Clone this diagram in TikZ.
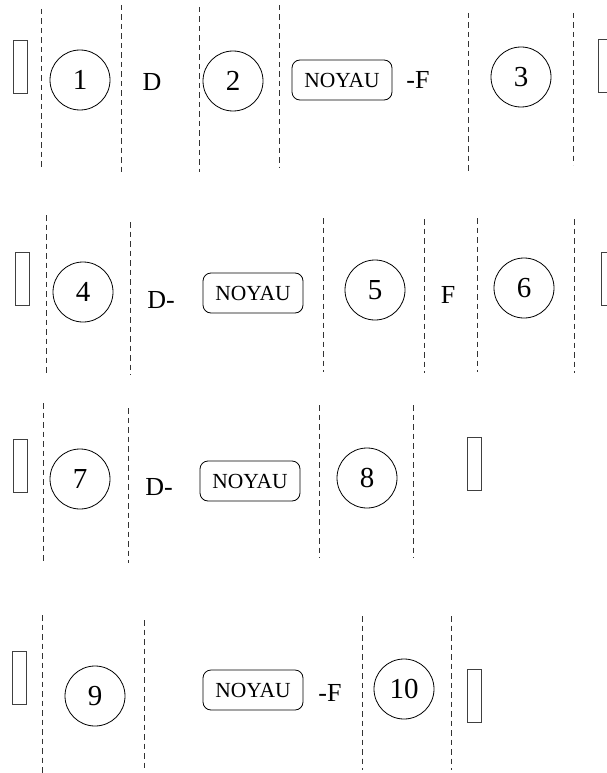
\documentclass[tikz,border=0pt]{standalone}
\usepackage{fontspec}
\setmainfont{Liberation Serif}
\usepackage{tikz}
\tikzset{
  disc/.style={draw=black, line width=0.8pt, circle, minimum size=60pt, inner sep=0pt,
    font=\fontsize{29}{31}\selectfont},
  kernel/.style={draw=black, line width=0.8pt, rounded corners=8pt, minimum width=100pt,
    minimum height=40pt, inner sep=0pt, font=\fontsize{21.5}{23}\selectfont},
  wall/.style={draw=black!75, line width=0.8pt, minimum width=14pt, minimum height=53pt, inner sep=0pt},
  tag/.style={inner sep=0pt, font=\fontsize{26}{28}\selectfont},
  cut/.style={draw=black!80, line width=0.8pt, dash pattern=on 5.5pt off 4pt}
}

\begin{document}
\begin{tikzpicture}[x=1pt, y=-1pt]
  \useasboundingbox (0,0) rectangle (607,773);

  \node[wall] (wallA) at (20,66.5) {};
  \draw[cut] (41,9) -- (41,168);
  \node[disc] (disc1) at (80,80) {1};
  \draw[cut] (121,5) -- (121,172);
  \node[tag] (tagA) at (152,82) {D};
  \draw[cut] (199,7) -- (199,172);
  \node[disc] (disc2) at (233,81) {2};
  \draw[cut] (279,5) -- (279,167);
  \node[kernel] (kernelA) at (342,80) {NOYAU};
  \node[tag] (tagB) at (418,80) {-F};
  \draw[cut] (468,13) -- (468,173);
  \node[disc] (disc3) at (521,77) {3};
  \draw[cut] (573,13) -- (573,165);
  \node[wall] (wallB) at (605,66) {};

  \node[wall] (wallC) at (22.5,279) {};
  \draw[cut] (46,215) -- (46,375);
  \node[disc] (disc4) at (83,292) {4};
  \draw[cut] (130,222) -- (130,375);
  \node[tag] (tagC) at (161,300) {D-};
  \node[kernel] (kernelB) at (253,293) {NOYAU};
  \draw[cut] (323,218) -- (323,372);
  \node[disc] (disc5) at (375,290) {5};
  \draw[cut] (424,219) -- (424,373);
  \node[tag] (tagD) at (448,295) {F};
  \draw[cut] (477,218) -- (477,372);
  \node[disc] (disc6) at (524,288) {6};
  \draw[cut] (574,219) -- (574,373);
  \node[wall] (wallD) at (608,278.5) {};

  \node[wall] (wallE) at (20,465.5) {};
  \draw[cut] (43,403) -- (43,563);
  \node[disc] (disc7) at (80,479) {7};
  \draw[cut] (128,408) -- (128,563);
  \node[tag] (tagE) at (159,487) {D-};
  \node[kernel] (kernelC) at (250,481) {NOYAU};
  \draw[cut] (319,405) -- (319,558);
  \node[disc] (disc8) at (367,478) {8};
  \draw[cut] (413,405) -- (413,558);
  \node[wall] (wallF) at (474.5,463.5) {};

  \node[wall] (wallG) at (19,677.5) {};
  \draw[cut] (42,615) -- (42,773);
  \node[disc] (disc9) at (95,696) {9};
  \draw[cut] (144,620) -- (144,768);
  \node[kernel] (kernelD) at (253,690) {NOYAU};
  \node[tag] (tagF) at (330,693) {-F};
  \draw[cut] (362,616) -- (362,770);
  \node[disc] (disc10) at (404,689) {10};
  \draw[cut] (451,616) -- (451,770);
  \node[wall] (wallH) at (474.5,695.5) {};
\end{tikzpicture}
\end{document}
